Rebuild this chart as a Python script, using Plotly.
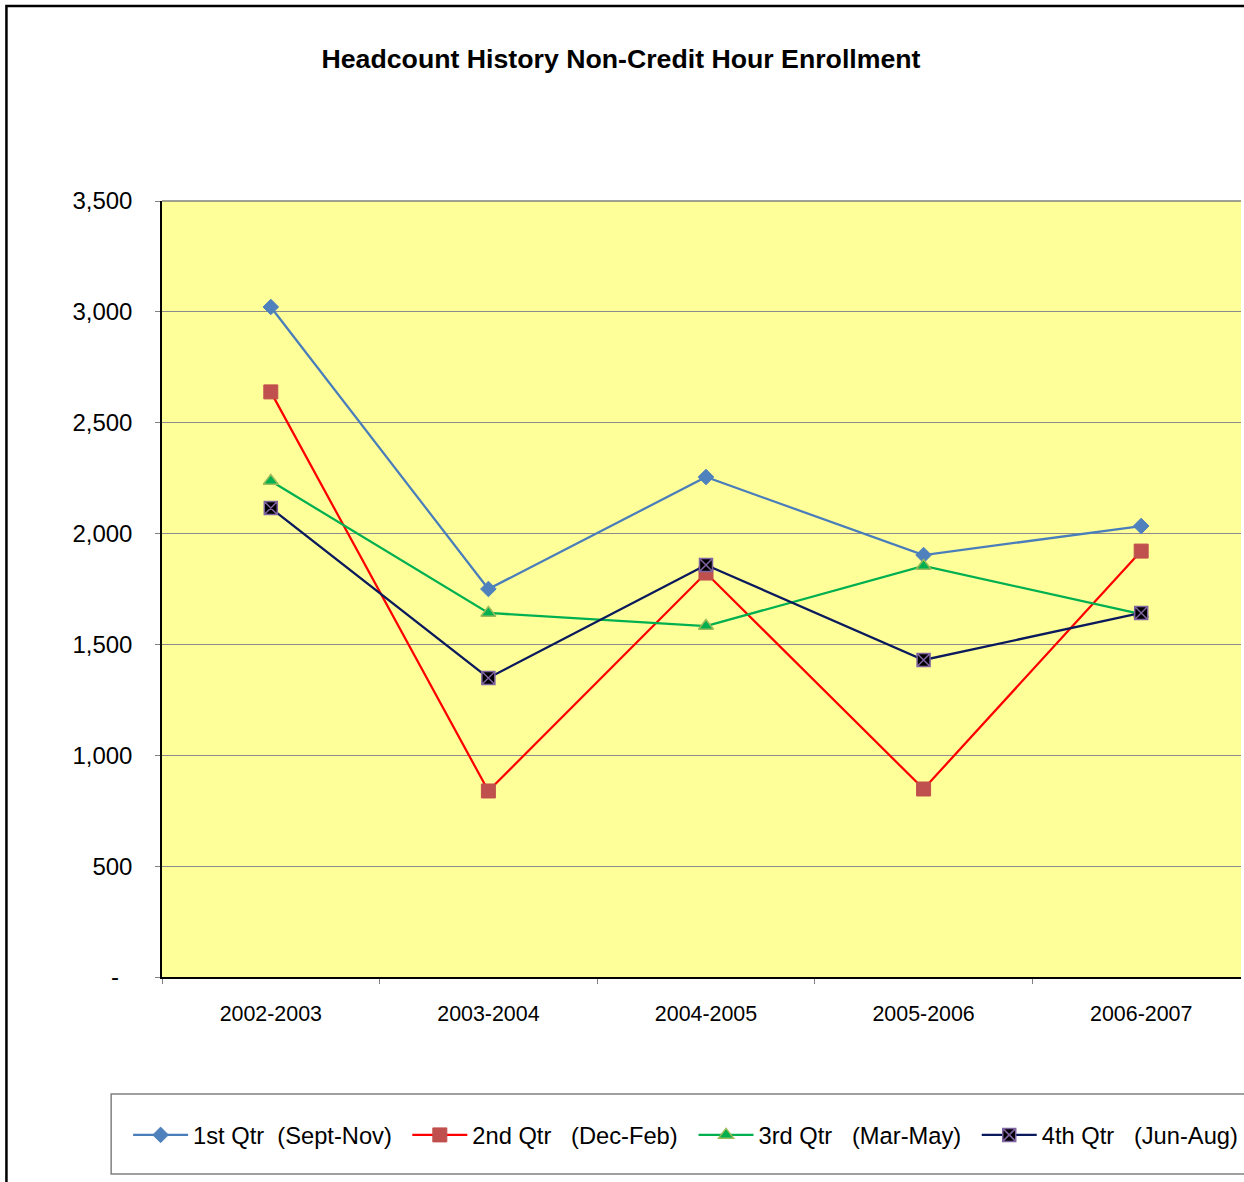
import plotly.graph_objects as go

years = ["2002-2003", "2003-2004", "2004-2005", "2005-2006", "2006-2007"]
q1 = [3022, 1750, 2255, 1903, 2034]
q2 = [2639, 839, 1822, 848, 1921]
q3 = [2237, 1642, 1583, 1854, 1637]
q4 = [2115, 1349, 1858, 1430, 1642]
names = ["1st Qtr\u00a0\u00a0(Sept-Nov)", "2nd Qtr\u00a0\u00a0\u00a0(Dec-Feb)",
         "3rd Qtr\u00a0\u00a0\u00a0(Mar-May)", "4th Qtr\u00a0\u00a0\u00a0(Jun-Aug)"]
ytick_vals = [0, 500, 1000, 1500, 2000, 2500, 3000, 3500]
ytick_text = ["-\u00a0\u00a0", "500", "1,000", "1,500", "2,000", "2,500", "3,000", "3,500"]

W, H = 1244, 1182
L, T = 162, 201
BOT = 977
B = H - BOT
R = 0
pw = W - L - R
ph = H - T - B
cat_w = 218.2

def px_x(px):
    return (px - L) / pw

def px_y(py):
    return (BOT - py) / ph

fig = go.Figure()
fig.add_trace(go.Scatter(x=years, y=q1, name=names[0], mode="lines+markers",
                         legend="legend",
                         line=dict(color="#4A7EBB", width=2.25),
                         marker=dict(symbol="diamond", size=12, color="#4F81BD",
                                     line=dict(color="#4F81BD", width=1))))
fig.add_trace(go.Scatter(x=years, y=q2, name=names[1], mode="lines+markers",
                         legend="legend2",
                         line=dict(color="#FF0000", width=2.25),
                         marker=dict(symbol="square", size=14, color="#C0504D",
                                     line=dict(color="#C0504D", width=1))))
fig.add_trace(go.Scatter(x=years, y=q3, name=names[2], mode="lines+markers",
                         legend="legend3",
                         line=dict(color="#00B050", width=2.25),
                         marker=dict(symbol="triangle-up", size=13, color="#00B050",
                                     line=dict(color="#9BBB59", width=1.5))))
fig.add_trace(go.Scatter(x=years, y=q4, name=names[3], mode="lines+markers",
                         legend="legend4",
                         line=dict(color="#0A1A5C", width=2.25),
                         marker=dict(symbol="square-x", size=13, color="#000000",
                                     line=dict(color="#8064A2", width=1.5))))

xmax = 4.5 - (L + 5 * cat_w - W) / cat_w

legend_starts = [128, 408, 695, 979]

def legend_cfg(xpx):
    return dict(orientation="h", x=px_x(xpx), xanchor="left",
                y=px_y(1135), yanchor="middle",
                font=dict(size=23.7, color="black"),
                bgcolor="rgba(0,0,0,0)", borderwidth=0, itemwidth=55)

fig.update_layout(
    width=W, height=H,
    margin=dict(l=L, r=R, t=T, b=B, pad=0),
    paper_bgcolor="white",
    plot_bgcolor="#FFFF99",
    font=dict(family="Arial, Liberation Sans, sans-serif", color="black"),
    title=dict(text="<b>Headcount History Non-Credit Hour Enrollment</b>",
               x=621 / W, xref="container", xanchor="center",
               y=1 - 59 / H, yref="container", yanchor="middle",
               font=dict(size=26.7, color="black")),
    xaxis=dict(type="category", range=[-0.5, xmax], tickson="boundaries",
               showline=True, linecolor="black", linewidth=1.5,
               ticks="outside", ticklen=5, tickcolor="#808080", tickwidth=1,
               showgrid=False, zeroline=False,
               tickfont=dict(size=21.4, color="black"),
               ticklabelstandoff=17),
    yaxis=dict(range=[0, 3500], tickvals=ytick_vals, ticktext=ytick_text,
               showline=True, linecolor="black", linewidth=1.5,
               ticks="outside", ticklen=5, tickcolor="#808080", tickwidth=1,
               showgrid=True, gridcolor="#8C8C8C", gridwidth=1,
               zeroline=False,
               tickfont=dict(size=24, color="black"),
               ticklabelstandoff=18),
    legend=legend_cfg(legend_starts[0]),
    legend2=legend_cfg(legend_starts[1]),
    legend3=legend_cfg(legend_starts[2]),
    legend4=legend_cfg(legend_starts[3]),
    showlegend=True,
    shapes=[
        dict(type="line", xref="paper", yref="paper", x0=0, x1=1, y0=1, y1=1,
             line=dict(color="#808080", width=1.5)),
        dict(type="rect", xref="paper", yref="paper",
             x0=px_x(111), x1=1.2, y0=px_y(1174), y1=px_y(1094),
             line=dict(color="#808080", width=1.5), fillcolor="rgba(0,0,0,0)"),
        dict(type="rect", xref="paper", yref="paper",
             x0=px_x(6), x1=1.2, y0=-0.5, y1=px_y(6),
             line=dict(color="black", width=2.5), fillcolor="rgba(0,0,0,0)"),
    ],
)

fig.write_html("out.html", config={"displayModeBar": False},
               post_script="document.body.style.margin='0px';")
